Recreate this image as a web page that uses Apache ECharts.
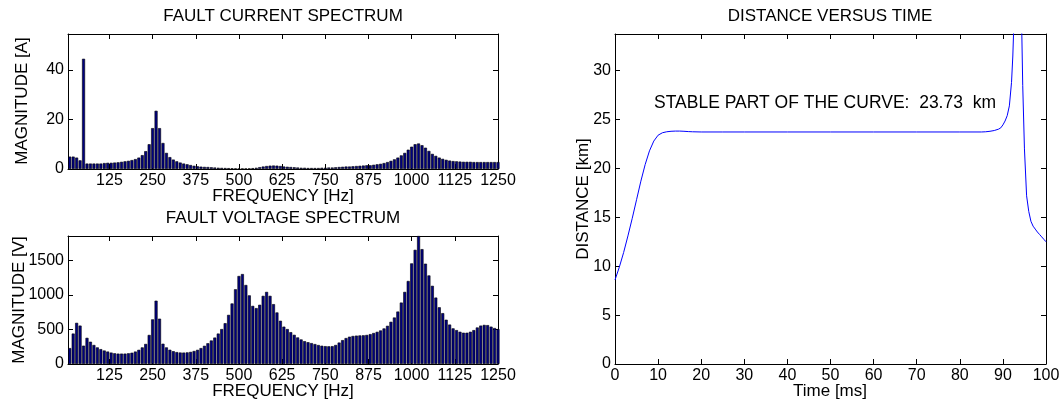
<!DOCTYPE html>
<html>
<head>
<meta charset="utf-8">
<script src="https://cdn.jsdelivr.net/npm/echarts@6/dist/echarts.min.js"></script>
<style>
  html, body { margin: 0; padding: 0; background: #fff; }
  #chart { width: 1062px; height: 405px; }
</style>
</head>
<body>
<div id="chart"></div>
<script>
// Spectrum bins (Hz), 10 Hz resolution
const freqHz = [
  10, 20, 30, 40, 50, 60, 70, 80, 90, 100,
  110, 120, 130, 140, 150, 160, 170, 180, 190, 200,
  210, 220, 230, 240, 250, 260, 270, 280, 290, 300,
  310, 320, 330, 340, 350, 360, 370, 380, 390, 400,
  410, 420, 430, 440, 450, 460, 470, 480, 490, 500,
  510, 520, 530, 540, 550, 560, 570, 580, 590, 600,
  610, 620, 630, 640, 650, 660, 670, 680, 690, 700,
  710, 720, 730, 740, 750, 760, 770, 780, 790, 800,
  810, 820, 830, 840, 850, 860, 870, 880, 890, 900,
  910, 920, 930, 940, 950, 960, 970, 980, 990, 1000,
  1010, 1020, 1030, 1040, 1050, 1060, 1070, 1080, 1090, 1100,
  1110, 1120, 1130, 1140, 1150, 1160, 1170, 1180, 1190, 1200,
  1210, 1220, 1230, 1240, 1250
];

// Fault current magnitude per bin [A]
const currentA = [
  5.0, 5.0, 4.6, 3.5, 44.5, 2.2, 2.2, 2.2, 2.2, 2.2,
  2.4, 2.5, 2.5, 2.6, 2.7, 2.9, 3.1, 3.3, 3.6, 4.0,
  4.6, 5.6, 7.2, 10.0, 16.5, 23.5, 16.5, 10.5, 6.5, 4.8,
  3.8, 3.1, 2.6, 2.2, 1.9, 1.6, 1.3, 1.1, 0.95, 0.85,
  0.8, 0.7, 0.6, 0.5, 0.45, 0.4, 0.35, 0.3, 0.25, 0.2,
  0.2, 0.2, 0.25, 0.35, 0.5, 0.75, 1.0, 1.2, 1.35, 1.4,
  1.35, 1.2, 1.0, 0.9, 0.8, 0.7, 0.6, 0.5, 0.5, 0.4,
  0.4, 0.4, 0.4, 0.5, 0.5, 0.6, 0.6, 0.7, 0.8, 0.9,
  1.0, 1.0, 1.1, 1.2, 1.3, 1.4, 1.5, 1.5, 1.7, 1.9,
  2.1, 2.4, 2.8, 3.3, 3.9, 4.6, 5.5, 6.5, 7.8, 9.0,
  10.0, 10.3, 9.6, 8.6, 7.3, 6.1, 5.3, 4.6, 4.1, 3.7,
  3.4, 3.2, 3.1, 3.0, 2.9, 2.9, 2.9, 2.8, 2.8, 2.8,
  2.8, 2.8, 2.8, 2.8, 2.8
];

// Fault voltage magnitude per bin [V]
const voltageV = [
  230, 440, 595, 555, 265, 378, 322, 275, 240, 215,
  195, 180, 165, 155, 150, 150, 150, 155, 163, 180,
  205, 240, 290, 420, 645, 915, 655, 293, 240, 206,
  185, 172, 166, 165, 168, 175, 188, 205, 230, 263,
  300, 340, 382, 440, 505, 590, 710, 875, 1080, 1272,
  1300, 1142, 992, 840, 808, 856, 985, 1042, 985, 865,
  745, 625, 540, 505, 460, 422, 384, 355, 330, 315,
  302, 288, 274, 264, 258, 256, 258, 275, 310, 345,
  375, 395, 405, 410, 413, 415, 420, 432, 448, 465,
  485, 514, 552, 610, 672, 758, 888, 1042, 1200, 1454,
  1650, 1850, 1660, 1450, 1280, 1130, 960, 820, 735, 640,
  570, 515, 490, 466, 452, 452, 466, 490, 528, 555,
  565, 562, 540, 520, 505
];

// Estimated fault distance over time
const timeMs = [
  0, 1, 2, 3, 4, 5, 6, 7, 8, 9,
  10, 11, 12, 13, 14, 15, 16, 17, 18, 20,
  25, 30, 40, 50, 60, 70, 80, 85, 86, 87,
  88, 89, 89.5, 90, 90.5, 91, 91.5, 92, 92.3, 92.6,
  93, 93.5, 94, 94.3, 94.6, 95, 95.5, 96, 96.5, 97,
  97.5, 98, 98.5, 99, 99.5, 100
];
const distanceKm = [
  8.6, 9.9, 11.4, 13.1, 14.9, 16.8, 18.7, 20.4, 21.8, 22.8,
  23.4, 23.65, 23.75, 23.8, 23.82, 23.82, 23.8, 23.77, 23.75, 23.73,
  23.73, 23.73, 23.73, 23.73, 23.73, 23.73, 23.73, 23.73, 23.75, 23.8,
  23.88, 24.02, 24.15, 24.45, 24.85, 25.4, 26.4, 28.8, 31.5, 35.5,
  42, 60, 48, 36, 28.5, 22, 17.2, 15.6, 14.6, 14.1,
  13.8, 13.5, 13.25, 13.0, 12.75, 12.5
];
const stableKm = 23.73;

// Tick values
const freqTicks = [125, 250, 375, 500, 625, 750, 875, 1000, 1125, 1250];
const currentTicks = [0, 20, 40];
const voltageTicks = [0, 500, 1000, 1500];
const timeTicks = [0, 10, 20, 30, 40, 50, 60, 70, 80, 90, 100];
const distanceTicks = [0, 5, 10, 15, 20, 25, 30];

const FONT = '"Liberation Sans", Arial, Helvetica, sans-serif';
const INK = '#000';
const BAR_FILL = '#000080';

function axis(gridIndex, position, min, max, ticks, labelled) {
  return {
    type: 'value',
    gridIndex: gridIndex,
    position: position,
    min: min,
    max: max,
    axisLine: { show: true, onZero: false, lineStyle: { color: INK, width: 1 } },
    axisTick: { show: true, inside: true, length: 5, lineStyle: { color: INK, width: 1 }, customValues: ticks },
    axisLabel: {
      show: labelled,
      customValues: ticks,
      formatter: (v) => String(v),
      color: INK,
      fontFamily: FONT,
      fontSize: 16,
      margin: 4
    },
    splitLine: { show: false }
  };
}

function label(text, x, y, size, rotate, align) {
  return {
    type: 'text',
    x: x,
    y: y,
    rotation: rotate ? Math.PI / 2 : 0,
    silent: true,
    style: {
      text: text,
      fill: INK,
      font: size + 'px ' + FONT,
      align: align || 'center',
      verticalAlign: 'middle'
    }
  };
}

function spectrumBars(name, axisIndex, values) {
  return {
    name: name,
    type: 'bar',
    xAxisIndex: axisIndex,
    yAxisIndex: axisIndex,
    barWidth: 3,
    clip: true,
    silent: true,
    itemStyle: { color: BAR_FILL, borderColor: '#000', borderWidth: 0.6 },
    data: freqHz.map((f, i) => [f, values[i]])
  };
}

const chart = echarts.init(document.getElementById('chart'), null, { renderer: 'canvas' });

chart.setOption({
  animation: false,
  backgroundColor: '#fff',
  grid: [
    { left: 68, top: 34, width: 430, height: 135, containLabel: false, outerBoundsMode: 'none' },
    { left: 68, top: 236, width: 430, height: 128, containLabel: false, outerBoundsMode: 'none' },
    { left: 615, top: 34, width: 431, height: 330, containLabel: false, outerBoundsMode: 'none' }
  ],
  xAxis: [
    axis(0, 'bottom', 5, 1250, freqTicks, true),
    axis(0, 'top', 5, 1250, freqTicks, false),
    axis(1, 'bottom', 5, 1250, freqTicks, true),
    axis(1, 'top', 5, 1250, freqTicks, false),
    axis(2, 'bottom', 0, 100, timeTicks, true),
    axis(2, 'top', 0, 100, timeTicks, false)
  ],
  yAxis: [
    axis(0, 'left', 0, 54.5, currentTicks, true),
    axis(0, 'right', 0, 54.5, currentTicks, false),
    axis(1, 'left', 0, 1850, voltageTicks, true),
    axis(1, 'right', 0, 1850, voltageTicks, false),
    axis(2, 'left', 0, 33.75, distanceTicks, true),
    axis(2, 'right', 0, 33.75, distanceTicks, false)
  ],
  series: [
    spectrumBars('FAULT CURRENT SPECTRUM', 0, currentA),
    spectrumBars('FAULT VOLTAGE SPECTRUM', 2, voltageV),
    {
      name: 'DISTANCE VERSUS TIME',
      type: 'line',
      xAxisIndex: 4,
      yAxisIndex: 4,
      clip: true,
      silent: true,
      showSymbol: false,
      symbol: 'none',
      lineStyle: { color: '#0000ff', width: 1 },
      data: timeMs.map((t, i) => [t, distanceKm[i]])
    }
  ],
  graphic: [
    label('FAULT CURRENT SPECTRUM', 283, 16, 17),
    label('FAULT VOLTAGE SPECTRUM', 283, 218, 17),
    label('DISTANCE VERSUS TIME', 830, 16, 17),
    label('FREQUENCY [Hz]', 283, 196, 17),
    label('FREQUENCY [Hz]', 283, 391, 17),
    label('Time [ms]', 830, 391, 17),
    label('MAGNITUDE [A]', 22, 101, 17, true),
    label('MAGNITUDE [V]', 19, 300, 17, true),
    label('DISTANCE [km]', 583, 199, 17, true),
    label('STABLE PART OF THE CURVE:  ' + stableKm.toFixed(2) + '  km', 654, 103, 17.5, false, 'left')
  ]
});
</script>
</body>
</html>
